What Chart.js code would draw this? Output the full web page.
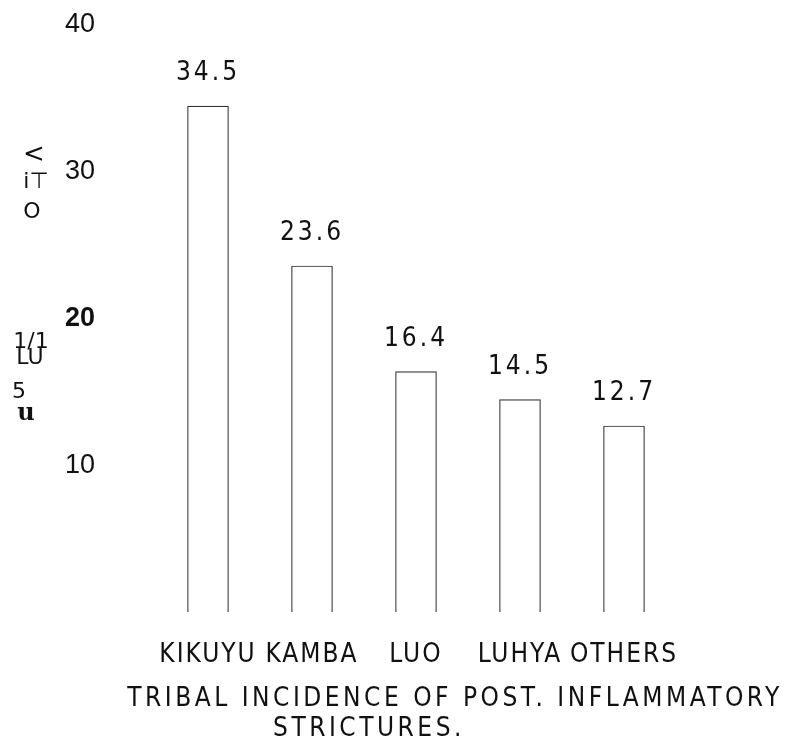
<!DOCTYPE html>
<html>
<head>
<meta charset="utf-8">
<script src="https://cdn.jsdelivr.net/npm/chart.js@4.4.1/dist/chart.umd.min.js"></script>
<style>
  html, body { margin: 0; padding: 0; background: #fff; }
  canvas { display: block; }
</style>
</head>
<body>
<canvas id="chart" width="793" height="753"></canvas>
<script>
// DATA

const tribes = ['KIKUYU', 'KAMBA', 'LUO', 'LUHYA', 'OTHERS'];
const incidence = [34.5, 23.6, 16.4, 14.5, 12.7];
const yTicks = [10, 20, 30, 40];
const titleLines = ['TRIBAL INCIDENCE OF POST. INFLAMMATORY', 'STRICTURES.'];
// what is left of the rotated axis caption, top to bottom
const yTitleBits = ['<', 'i\u22A4', 'O', '1/1', 'LU', '5', 'u'];


// STYLE

const ink = '#111';
const labelFont = '26px "DejaVu Sans Condensed", "DejaVu Sans", sans-serif';
const tickFamily = '"Liberation Sans", Arial, sans-serif';


// TEXT PLUGIN (value labels, categories, caption, title)

const textPlugin = {
    id: 'textPlugin',
    afterDraw(chart) {
        const { ctx } = chart;
        const x = chart.scales.x;
        const meta = chart.getDatasetMeta(0);
        ctx.save();
        ctx.fillStyle = ink;
        ctx.textAlign = 'center';
        ctx.textBaseline = 'middle';
        ctx.font = labelFont;
        if ('letterSpacing' in ctx) ctx.letterSpacing = '3px';

        // values above bars
        meta.data.forEach((bar, i) => {
            ctx.fillText(incidence[i].toFixed(1), bar.x, bar.y - 32);
        });

        // category names under the axis
        if ('letterSpacing' in ctx) ctx.letterSpacing = '2px';
        tribes.forEach((t, i) => {
            ctx.fillText(t, x.getPixelForValue(i), 655);
        });

        // title, two lines
        if ('letterSpacing' in ctx) ctx.letterSpacing = '3.5px';
        ctx.fillText(titleLines[0], 455, 699);
        ctx.fillText(titleLines[1], 369, 729);

        // broken axis caption on the left
        if ('letterSpacing' in ctx) ctx.letterSpacing = '0px';
        ctx.font = '22px "DejaVu Sans", sans-serif';
        const bitPos = [[34, 155], [36, 182], [32, 212], [31, 342], [30, 358], [19, 392], [26, 414]];
        yTitleBits.forEach((b, i) => {
            if (i === 0) ctx.font = '26px "DejaVu Sans", sans-serif';
            else if (i === yTitleBits.length - 1) ctx.font = 'bold 24px "DejaVu Serif", serif';
            else ctx.font = '22px "DejaVu Sans", sans-serif';
            ctx.fillText(b, bitPos[i][0], bitPos[i][1]);
        });
        ctx.restore();
    }
};


// CHART

new Chart(document.getElementById('chart').getContext('2d'), {
    type: 'bar',
    data: {
        labels: tribes,
        datasets: [{
            data: incidence,
            backgroundColor: 'rgba(255,255,255,0)',
            borderColor: '#333',
            borderWidth: 1.2,
            barPercentage: 0.4,
            categoryPercentage: 1
        }]
    },
    options: {
        responsive: false,
        animation: false,
        layout: { padding: { left: 0, right: 117, top: 25, bottom: 0 } },
        plugins: { legend: { display: false }, tooltip: { enabled: false } },
        scales: {
            x: {
                grid: { display: false },
                border: { display: false },
                ticks: { display: false },
                afterFit: (s) => { s.height = 141; s.paddingLeft = 0; s.paddingRight = 0; }
            },
            y: {
                min: 0,
                max: 40,
                grid: { display: false },
                border: { display: false },
                afterFit: (s) => { s.width = 156; s.paddingTop = 0; s.paddingBottom = 0; },
                ticks: {
                    stepSize: 10,
                    padding: 53,
                    color: ink,
                    callback: (v) => yTicks.includes(v) ? String(v) : '',
                    font: (c) => ({
                        family: tickFamily,
                        size: 27,
                        weight: c.tick && c.tick.value === 20 ? 'bold' : 'normal'
                    })
                }
            }
        }
    },
    plugins: [textPlugin]
});
</script>
</body>
</html>
